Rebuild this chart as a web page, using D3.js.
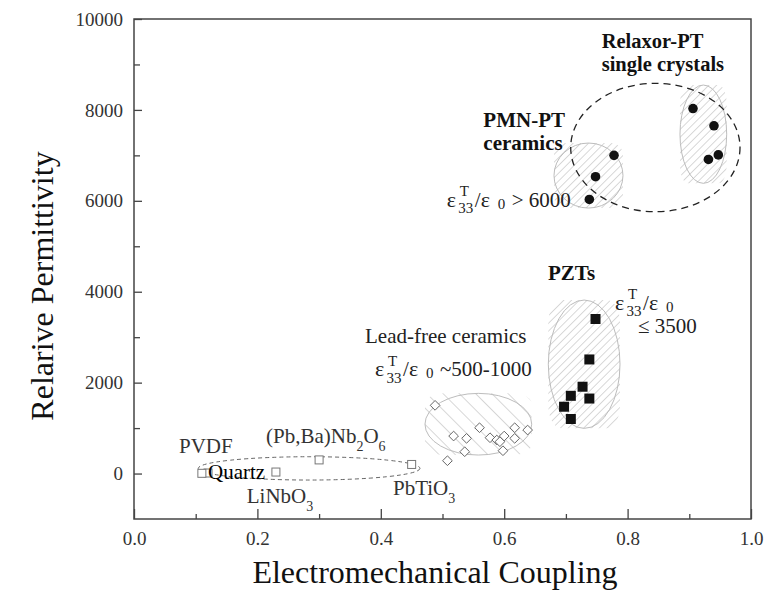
<!DOCTYPE html>
<html>
<head>
<meta charset="utf-8">
<script src="https://cdn.jsdelivr.net/npm/d3@7"></script>
<style>
  html, body { margin: 0; padding: 0; background: #fff; }
  svg { display: block; }
  text { font-family: "Liberation Serif", "Times New Roman", serif; }
</style>
</head>
<body>
<svg id="chart" width="779" height="593"></svg>
<script>
// ---------------- data ----------------
const xTickValues = [0, 0.2, 0.4, 0.6, 0.8, 1.0];
const xTickLabels = ["0.0", "0.2", "0.4", "0.6", "0.8", "1.0"];
const xMinorTicks = [0.1, 0.3, 0.5, 0.7, 0.9];
const yTickValues = [0, 2000, 4000, 6000, 8000, 10000];
const yTickLabels = ["0", "2000", "4000", "6000", "8000", "10000"];
const yMinorTicks = [1000, 3000, 5000, 7000, 9000];

// Relaxor-PT single crystals (filled circles)  [k, permittivity]
const relaxorPT = [[0.906, 8030], [0.940, 7650], [0.931, 6910], [0.947, 7010]];
// PMN-PT ceramics (filled circles)
const pmnPT = [[0.778, 7000], [0.748, 6530], [0.738, 6030]];
// PZTs (filled squares)
const pzt = [[0.748, 3400], [0.738, 2510], [0.727, 1910], [0.738, 1650],
             [0.708, 1710], [0.697, 1470], [0.708, 1200]];
// Lead-free ceramics (open diamonds)
const leadFree = [[0.488, 1500], [0.518, 825], [0.539, 774], [0.536, 480],
                  [0.508, 282], [0.560, 1008], [0.577, 788], [0.588, 737],
                  [0.593, 700], [0.600, 825], [0.617, 1008], [0.617, 774],
                  [0.638, 957], [0.598, 502]];
// Low-permittivity materials (open squares)
const lowKNames = ["PVDF", "Quartz", "LiNbO3", "(Pb,Ba)Nb2O6", "PbTiO3"];
const lowKCoupling = [0.12, 0.11, 0.23, 0.30, 0.45];
const lowKPermittivity = [12, 5, 33, 300, 200];

// Grouping regions, in data units: [kMin, kMax, epsMin, epsMax]
const hatchRegionsSlash = [
  [0.6807, 0.7925, 5841, 7271],   // PMN-PT ceramics
  [0.8849, 0.9606, 6385, 8547],   // Relaxor-PT single crystals
  [0.6715, 0.7877, 994, 3817]     // PZTs
];
const hatchRegionsBackslash = [
  [0.4716, 0.6446, 407, 1764]     // Lead-free ceramics
];
const dashedRegions = [
  [0.7078, 0.9822, 5760, 8584],   // high-permittivity group
  [0.1042, 0.4635, -143, 370]     // low-permittivity group
];

// ---------------- layout ----------------
const svg = d3.select("#chart");
const mLeft = 134, mRight = 751, mTop = 19, mBottom = 519;
const x = d3.scaleLinear().domain([0, 1]).range([mLeft, mRight]);
const y = d3.scaleLinear().domain([-1000, 10000]).range([mBottom, mTop]);
const FONT = '"Liberation Serif", "Times New Roman", serif';

// patterns
const defs = svg.append("defs");
const p1 = defs.append("pattern").attr("id", "hatchSlash")
  .attr("patternUnits", "userSpaceOnUse").attr("width", 5.5).attr("height", 5.5)
  .attr("patternTransform", "rotate(45)");
p1.append("line").attr("x1", 0).attr("y1", 0).attr("x2", 0).attr("y2", 5.5)
  .attr("stroke", "#a8a8a8").attr("stroke-width", 0.9);
const p2 = defs.append("pattern").attr("id", "hatchBack")
  .attr("patternUnits", "userSpaceOnUse").attr("width", 11.5).attr("height", 11.5)
  .attr("patternTransform", "rotate(-45)");
p2.append("line").attr("x1", 0).attr("y1", 0).attr("x2", 0).attr("y2", 11.5)
  .attr("stroke", "#b0b0b0").attr("stroke-width", 1);

// hatched regions
function hatch(regions, pat) {
  regions.forEach(r => {
    svg.append("rect")
      .attr("x", x(r[0])).attr("y", y(r[3]))
      .attr("width", x(r[1]) - x(r[0])).attr("height", y(r[2]) - y(r[3]))
      .attr("rx", (x(r[1]) - x(r[0])) * 0.18).attr("ry", (y(r[2]) - y(r[3])) * 0.18)
      .attr("fill", `url(#${pat})`);
    svg.append("ellipse")
      .attr("cx", (x(r[0]) + x(r[1])) / 2).attr("cy", (y(r[2]) + y(r[3])) / 2)
      .attr("rx", (x(r[1]) - x(r[0])) / 2).attr("ry", (y(r[2]) - y(r[3])) / 2)
      .attr("fill", "none").attr("stroke", "#bdbdbd").attr("stroke-width", 1);
  });
}
hatch(hatchRegionsSlash, "hatchSlash");
hatch(hatchRegionsBackslash, "hatchBack");

// dashed group ellipses
svg.append("ellipse")
  .attr("cx", (x(dashedRegions[0][0]) + x(dashedRegions[0][1])) / 2)
  .attr("cy", (y(dashedRegions[0][2]) + y(dashedRegions[0][3])) / 2)
  .attr("rx", (x(dashedRegions[0][1]) - x(dashedRegions[0][0])) / 2)
  .attr("ry", (y(dashedRegions[0][2]) - y(dashedRegions[0][3])) / 2)
  .attr("fill", "none").attr("stroke", "#222").attr("stroke-width", 1.3)
  .attr("stroke-dasharray", "7,5");
svg.append("ellipse")
  .attr("cx", (x(dashedRegions[1][0]) + x(dashedRegions[1][1])) / 2)
  .attr("cy", (y(dashedRegions[1][2]) + y(dashedRegions[1][3])) / 2)
  .attr("rx", (x(dashedRegions[1][1]) - x(dashedRegions[1][0])) / 2)
  .attr("ry", (y(dashedRegions[1][2]) - y(dashedRegions[1][3])) / 2)
  .attr("fill", "none").attr("stroke", "#666").attr("stroke-width", 1)
  .attr("stroke-dasharray", "4,3");

// ---------------- axes ----------------
const axisColor = "#444";
const gx = svg.append("g").attr("transform", `translate(0,${mBottom})`)
  .call(d3.axisBottom(x).tickValues(xTickValues)
    .tickFormat((d, i) => xTickLabels[i]).tickSizeInner(-10).tickSizeOuter(0).tickPadding(12.5));
const gxm = svg.append("g").attr("transform", `translate(0,${mBottom})`)
  .call(d3.axisBottom(x).tickValues(xMinorTicks).tickFormat("").tickSizeInner(-5).tickSizeOuter(0));
const gy = svg.append("g").attr("transform", `translate(${mLeft},0)`)
  .call(d3.axisLeft(y).tickValues(yTickValues)
    .tickFormat((d, i) => yTickLabels[i]).tickSizeInner(-8).tickSizeOuter(0).tickPadding(11));
const gym = svg.append("g").attr("transform", `translate(${mLeft},0)`)
  .call(d3.axisLeft(y).tickValues(yMinorTicks).tickFormat("").tickSizeInner(-6).tickSizeOuter(0));
[gx, gxm, gy, gym].forEach(g => {
  g.select(".domain").remove();
  g.selectAll("line").attr("stroke", axisColor).attr("stroke-width", 1.3);
  g.selectAll("text").attr("font-family", FONT).attr("font-size", 19).attr("fill", "#333");
});
// frame
svg.append("rect").attr("x", mLeft).attr("y", mTop)
  .attr("width", mRight - mLeft).attr("height", mBottom - mTop)
  .attr("fill", "none").attr("stroke", axisColor).attr("stroke-width", 1.5);

// axis titles
svg.append("text").attr("x", 435).attr("y", 583)
  .attr("text-anchor", "middle").attr("font-size", 32).attr("fill", "#111")
  .text("Electromechanical Coupling");
svg.append("text").attr("transform", "translate(53,286) rotate(-90)")
  .attr("text-anchor", "middle").attr("font-size", 32).attr("fill", "#111")
  .text("Relarive Permittivity");

// ---------------- markers ----------------
const circ = relaxorPT.concat(pmnPT);
svg.selectAll(".dot").data(circ).enter().append("circle")
  .attr("cx", d => x(d[0])).attr("cy", d => y(d[1])).attr("r", 4.8)
  .attr("fill", "#111");
svg.selectAll(".sq").data(pzt).enter().append("rect")
  .attr("x", d => x(d[0]) - 5).attr("y", d => y(d[1]) - 5)
  .attr("width", 10).attr("height", 10).attr("fill", "#111");
svg.selectAll(".dia").data(leadFree).enter().append("path")
  .attr("d", d3.symbol().type(d3.symbolDiamond2).size(60))
  .attr("transform", d => `translate(${x(d[0])},${y(d[1])})`)
  .attr("fill", "#fff").attr("stroke", "#666").attr("stroke-width", 1);
svg.selectAll(".osq").data(lowKNames.map((n, i) => [lowKCoupling[i], lowKPermittivity[i]]))
  .enter().append("rect")
  .attr("x", d => x(d[0]) - 4).attr("y", d => y(d[1]) - 4)
  .attr("width", 8).attr("height", 8)
  .attr("fill", "#fff").attr("stroke", "#777").attr("stroke-width", 1);

// ---------------- labels ----------------
function label(k, e, parts, opts = {}) {
  const t = svg.append("text").attr("x", x(k)).attr("y", y(e))
    .attr("font-size", opts.size || 21)
    .attr("font-weight", opts.bold ? "bold" : "normal")
    .attr("fill", opts.color || "#222");
  let sub = false;
  parts.forEach(p => {
    const isSub = typeof p === "object";
    const s = t.append("tspan").text(isSub ? p.sub : p);
    if (isSub && !sub) { s.attr("dy", 8).attr("font-size", 14); sub = true; }
    else if (isSub) { s.attr("font-size", 14); }
    else if (!isSub && sub) { s.attr("dy", -8); sub = false; }
  });
  return t;
}
label(0.758, 9361, ["Relaxor-PT"], { bold: true, color: "#111", size: 20.5 });
label(0.758, 8855, ["single crystals"], { bold: true, color: "#111", size: 20.5 });
label(0.5662, 7630, ["PMN-PT"], { bold: true, color: "#111" });
label(0.5662, 7117, ["ceramics"], { bold: true, color: "#111" });
label(0.671, 4257, ["PZTs"], { bold: true, color: "#111" });
label(0.3744, 2864, ["Lead-free ceramics"]);
label(0.8169, 3100, ["\u2264 3500"]);
label(0.0729, 451, ["PVDF"], { color: "#333" });
label(0.12, -121, ["Quartz"], { color: "#000" });
label(0.1827, -649, ["LiNbO", { sub: "3" }], { color: "#333" });
label(0.2139, 671, ["(Pb,Ba)Nb", { sub: "2" }, "O", { sub: "6" }], { color: "#333" });
label(0.4198, -473, ["PbTiO", { sub: "3" }], { color: "#333" });

// permittivity ratio labels  ε33^T / ε 0  + tail
function epsLabel(k, e, tail) {
  const g = svg.append("g").attr("transform", `translate(${x(k)},${y(e)})`)
    .attr("fill", "#222");
  g.append("text").attr("x", 0).attr("y", 0).attr("font-size", 22).text("\u03b5");
  g.append("text").attr("x", 11.5).attr("y", 6.5).attr("font-size", 15).text("33");
  g.append("text").attr("x", 13).attr("y", -10.5).attr("font-size", 15).text("T");
  g.append("text").attr("x", 28).attr("y", 0).attr("font-size", 21).text("/");
  g.append("text").attr("x", 34).attr("y", 0).attr("font-size", 22).text("\u03b5");
  g.append("text").attr("x", 51).attr("y", 2).attr("font-size", 15).text("0");
  if (tail) g.append("text").attr("x", 65).attr("y", 0).attr("font-size", 21).text(tail);
}
epsLabel(0.5068, 5870, "> 6000");
epsLabel(0.7796, 3600, "");
epsLabel(0.3906, 2145, "~500-1000");
</script>
</body>
</html>
